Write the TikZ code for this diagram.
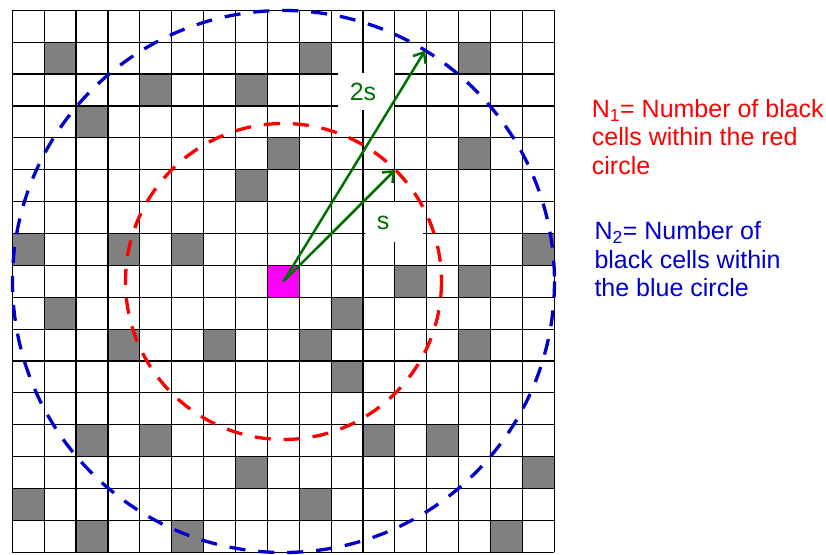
\documentclass[tikz,border=0pt]{standalone}
\usepackage{fontspec}
\setmainfont{Liberation Sans}
\usetikzlibrary{arrows.meta}
\definecolor{cellgray}{RGB}{128,128,128}
\definecolor{cblue}{RGB}{0,0,204}
\definecolor{cred}{RGB}{255,0,0}
\definecolor{cgreen}{RGB}{0,112,0}
\definecolor{cmag}{RGB}{255,0,255}
\begin{document}
\begin{tikzpicture}[x=1pt,y=-1pt,
  gridline/.style={black,line width=1.15pt},
  graycell/.style={fill=cellgray},
  circlered/.style={cred,line width=3.3pt,dash pattern=on 16pt off 13pt},
  circleblue/.style={cblue,line width=3.3pt,dash pattern=on 16pt off 13pt},
  arrowline/.style={cgreen,line width=2.5pt,-{Straight Barb[length=9pt,width=15pt]}},
  lbl/.style={text=cgreen,font=\fontsize{25}{28.5}\selectfont,inner sep=0pt},
  whitebox/.style={fill=white,draw=none},
  redtxt/.style={text=cred,font=\fontsize{25}{28.5}\selectfont,anchor=base west,inner sep=0pt},
  bluetxt/.style={text=cblue,font=\fontsize{25}{28.5}\selectfont,anchor=base west,inner sep=0pt}]
\def\cs{31.88}
\def\ox{12.3}
\def\oy{10.3}
\useasboundingbox (0,0) rectangle (826,554);
\fill[white] (0,0) rectangle (826,554);
% gray cells (col/row)
\foreach \c/\r in {1/1,9/1,14/1, 4/2,7/2, 2/3, 8/4,14/4, 7/5,
  0/7,3/7,5/7,16/7, 12/8,14/8, 1/9,10/9, 3/10,6/10,9/10,14/10, 10/11,
  2/13,4/13,11/13,13/13, 7/14,16/14, 0/15,9/15, 2/16,5/16,15/16}
  \fill[graycell] ({\ox+\c*\cs},{\oy+\r*\cs}) rectangle ++(\cs,\cs);
% source cell
\node[fill=cmag,draw=none,minimum width=\cs pt,minimum height=\cs pt,inner sep=0pt,anchor=north west]
  (src) at ({\ox+8*\cs},{\oy+8*\cs}) {};
% grid
\foreach \i in {0,...,17} {
  \draw[gridline] ({\ox+\i*\cs},\oy) -- ({\ox+\i*\cs},{\oy+17*\cs});
  \draw[gridline] (\ox,{\oy+\i*\cs}) -- ({\ox+17*\cs},{\oy+\i*\cs});
}
% label boxes
\fill[whitebox] (338,73) rectangle (394,110);
\fill[whitebox] (365,202) rectangle (423,242);
% circles
\draw[circleblue] (src.center) circle[radius=271];
\draw[circlered] (src.center) circle[radius=158];
% arrows
\coordinate (tb) at (425,50.7);
\coordinate (tr) at (395,170);
\draw[arrowline] (src.center) -- (tb);
\draw[arrowline] (src.center) -- (tr);
\node[lbl] (l2s) at (363,92) {2s};
\node[lbl] (ls) at (383,223) {s};
% texts
\node[redtxt] (r1) at (591.7,117.3) {N\textsubscript{1}= Number of black};
\node[redtxt] (r2) at (591.7,145.7) {cells within the red};
\node[redtxt] (r3) at (591.7,174.3) {circle};
\node[bluetxt] (b1) at (594.3,239.3) {N\textsubscript{2}= Number of};
\node[bluetxt] (b2) at (594.3,268.3) {black cells within};
\node[bluetxt] (b3) at (594.3,296.7) {the blue circle};
\end{tikzpicture}
\end{document}
